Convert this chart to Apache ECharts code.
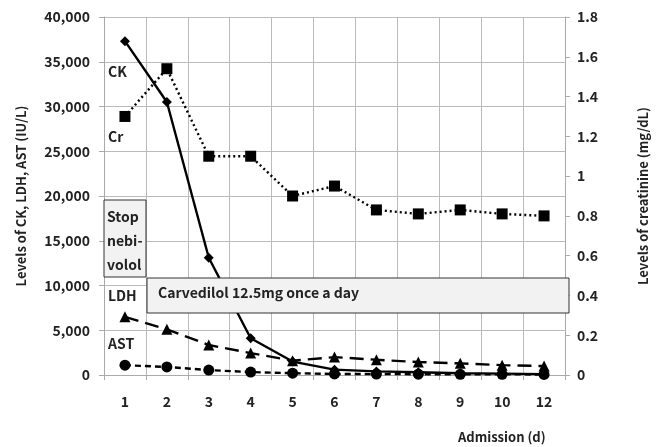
<!DOCTYPE html>
<html>
<head>
<meta charset="utf-8">
<script src="https://cdn.jsdelivr.net/npm/echarts@6/dist/echarts.min.js"></script>
<style>
  html, body { margin: 0; padding: 0; background: #fff; }
  #chart { width: 658px; height: 447px; }
</style>
</head>
<body>
<div id="chart"></div>
<script>
// admission days (day 11 missing in the source)
const days = ["1", "2", "3", "4", "5", "6", "7", "8", "9", "10", "12"];
const ck = [37300, 30500, 13100, 4100, 1500, 600, 400, 300, 200, 150, 100];
const ldh = [6500, 5100, 3350, 2450, 1600, 2000, 1700, 1450, 1300, 1100, 1000];
const ast = [1100, 900, 550, 330, 200, 120, 100, 90, 80, 70, 60];
const cr = [1.3, 1.54, 1.1, 1.1, 0.9, 0.95, 0.83, 0.81, 0.83, 0.81, 0.8];

const FONT = "Noto Sans CJK KR";
const chart = echarts.init(document.getElementById("chart"));

function lineSeries(name, data, symbol, size, type, yIdx) {
  return {
    name: name,
    type: "line",
    data: data,
    yAxisIndex: yIdx,
    symbol: symbol,
    symbolSize: size,
    animation: false,
    lineStyle: { color: "#000", width: 2.4, type: type },
    itemStyle: { color: "#000" }
  };
}

chart.setOption({
  textStyle: { fontFamily: FONT },
  grid: { left: 104, right: 89, top: 17, bottom: 72 },
  xAxis: {
    type: "category",
    data: days,
    boundaryGap: true,
    axisLine: { lineStyle: { color: "#aaa" } },
    axisTick: { show: true, length: 5, lineStyle: { color: "#aaa" } },
    splitLine: { show: true, lineStyle: { color: "#bbb" } },
    axisLabel: { color: "#222", fontWeight: "bold", fontSize: 14, margin: 20 }
  },
  yAxis: [
    {
      type: "value",
      min: 0, max: 40000, interval: 5000,
      axisLine: { show: true, lineStyle: { color: "#aaa" } },
      axisTick: { show: true, length: 5, lineStyle: { color: "#aaa" } },
      splitLine: { lineStyle: { color: "#bbb" } },
      axisLabel: {
        color: "#222", fontWeight: "bold", fontSize: 14, margin: 14,
        formatter: v => v.toLocaleString("en-US")
      },
      name: "Levels of CK, LDH, AST (IU/L)",
      nameLocation: "middle",
      nameGap: 76,
      nameTextStyle: { color: "#222", fontSize: 13, fontWeight: "bold" }
    },
    {
      type: "value",
      min: 0, max: 1.8, interval: 0.2,
      position: "right",
      axisLine: { show: true, lineStyle: { color: "#aaa" } },
      axisTick: { show: true, length: 5, lineStyle: { color: "#aaa" } },
      splitLine: { show: false },
      axisLabel: { color: "#222", fontWeight: "bold", fontSize: 14, margin: 12 },
      name: "Levels of creatinine (mg/dL)",
      nameLocation: "middle",
      nameGap: 72,
      nameRotate: 90,
      nameTextStyle: { color: "#222", fontSize: 13, fontWeight: "bold" }
    }
  ],
  series: [
    lineSeries("Cr", cr, "rect", 11, [2, 3], 1),
    lineSeries("AST", ast, "circle", 11, [6, 4], 0),
    lineSeries("LDH", ldh, "triangle", 11, [14, 7], 0),
    lineSeries("CK", ck, "diamond", 10, "solid", 0)
  ],
  graphic: [
    { type: "text", left: 108, top: 65, style: { text: "CK", font: "bold 14px '" + FONT + "'", fill: "#222" } },
    { type: "text", left: 108, top: 130, style: { text: "Cr", font: "bold 14px '" + FONT + "'", fill: "#222" } },
    { type: "text", left: 108, top: 289, style: { text: "LDH", font: "bold 14px '" + FONT + "'", fill: "#222" } },
    { type: "text", left: 108, top: 337, style: { text: "AST", font: "bold 14px '" + FONT + "'", fill: "#222" } },
    {
      type: "rect", shape: { x: 104, y: 200, width: 42, height: 77 },
      style: { fill: "#f2f2f2", stroke: "#333", lineWidth: 1 }, z: 10
    },
    {
      type: "text", left: 107, top: 205, z: 11,
      style: { text: "Stop\nnebi-\nvolol", font: "bold 14px '" + FONT + "'", lineHeight: 24, fill: "#222" }
    },
    {
      type: "rect", shape: { x: 147, y: 278, width: 422, height: 35 },
      style: { fill: "#f2f2f2", stroke: "#333", lineWidth: 1 }, z: 10
    },
    {
      type: "text", left: 158, top: 286, z: 11,
      style: { text: "Carvedilol 12.5mg once a day", font: "bold 14px '" + FONT + "'", fill: "#222" }
    },
    {
      type: "text", left: 458, top: 431,
      style: { text: "Admission (d)", font: "bold 13px '" + FONT + "'", fill: "#222" }
    }
  ]
});
</script>
</body>
</html>
